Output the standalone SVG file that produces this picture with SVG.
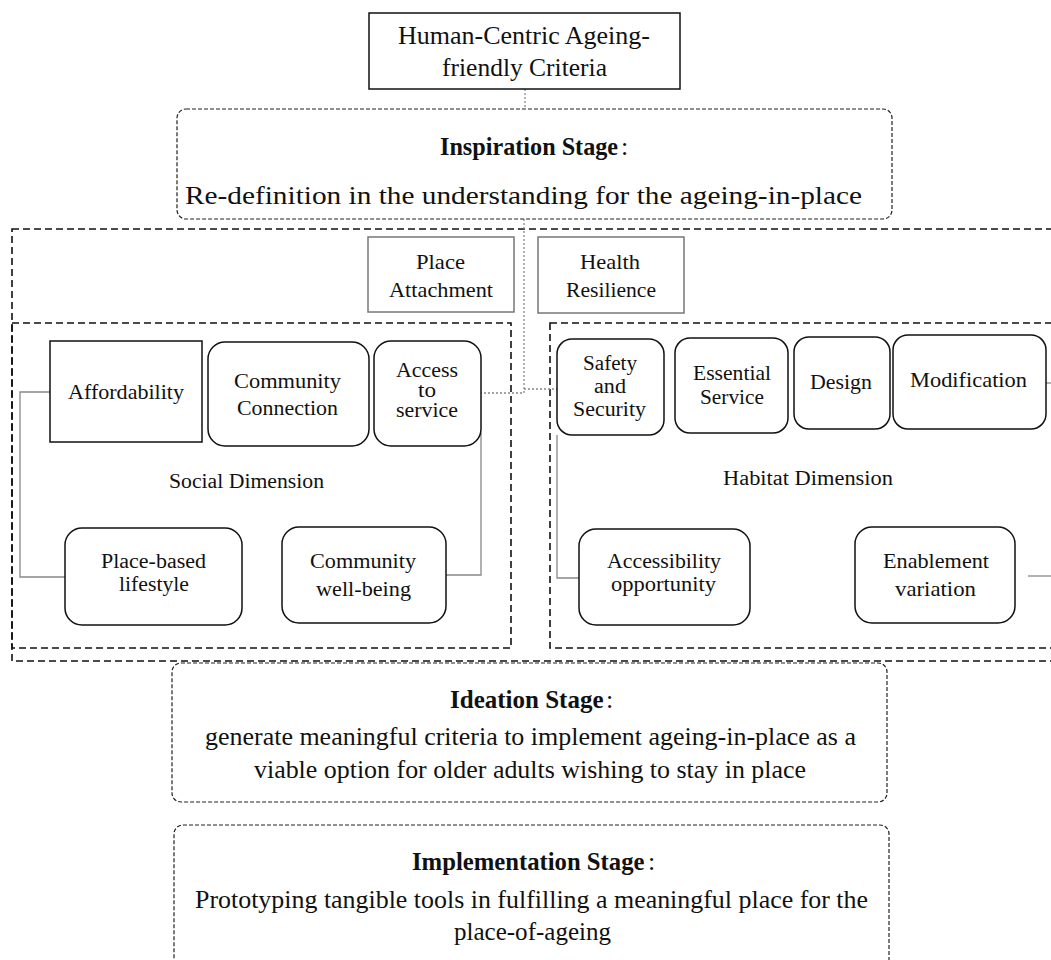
<svg xmlns="http://www.w3.org/2000/svg" width="1051" height="960" viewBox="0 0 1051 960">
<style>
text{font-family:"Liberation Serif","Times New Roman",serif;fill:#111;}
.big{font-size:26px;}
.bold{font-weight:bold;}
.nd{font-size:22px;}
.sm{font-size:20px;}
.dim{font-size:20px;}
.box{fill:#fff;stroke:#111;stroke-width:1.5;}
.gbox{fill:#fff;stroke:#777;stroke-width:1.5;}
.stage{fill:none;stroke:#222;stroke-width:1.2;stroke-dasharray:4 2;}
.dash{fill:none;stroke:#111;stroke-width:1.6;stroke-dasharray:7 4;}
.conn{fill:none;stroke:#888;stroke-width:1.3;}
.dot{fill:none;stroke:#888;stroke-width:1.3;stroke-dasharray:2 2;}
</style>
<rect width="1051" height="960" fill="#fff"/>

<g id="containers">
<rect class="dash" x="12" y="229" width="1060" height="432"/>
<rect class="dash" x="12" y="323" width="499" height="325"/>
<rect class="dash" x="550" y="323" width="520" height="325"/>
</g>

<g id="connectors">
<path class="dot" d="M525 89 V109"/>
<path class="dot" d="M524 219 V393 H481"/>
<path class="dot" d="M524 389 H557"/>
<path class="conn" d="M50 392 H20 V577 H65"/>
<path class="conn" d="M481 433 V575 H446"/>
<path class="conn" d="M557 435 V578 H579"/>
<path class="conn" d="M1046 383 H1051"/>
<path class="conn" d="M1028 576 H1051"/>
</g>

<g id="n-top">
<rect class="box" x="369" y="13" width="311" height="76"/>
<text class="big" x="398" y="44" textLength="252" lengthAdjust="spacingAndGlyphs">Human-Centric Ageing-</text>
<text class="big" x="442" y="76" textLength="165" lengthAdjust="spacingAndGlyphs">friendly Criteria</text>
</g>

<g id="n-inspiration">
<rect class="stage" x="177" y="109" width="715" height="110" rx="9"/>
<text class="bold" x="440" y="155" font-size="24.2">Inspiration Stage</text>
<text class="big" x="621" y="155">:</text>
<text class="big" x="185" y="204" textLength="677" lengthAdjust="spacingAndGlyphs">Re-definition in the understanding for the ageing-in-place</text>
</g>

<g id="n-place-attachment">
<rect class="gbox" x="368" y="237" width="146" height="75"/>
<text class="nd" x="416" y="269" textLength="49" lengthAdjust="spacingAndGlyphs">Place</text>
<text class="nd" x="389" y="297" textLength="104" lengthAdjust="spacingAndGlyphs">Attachment</text>
</g>

<g id="n-health-resilience">
<rect class="gbox" x="538" y="237" width="146" height="76"/>
<text class="nd" x="580" y="269" textLength="60" lengthAdjust="spacingAndGlyphs">Health</text>
<text class="nd" x="566" y="297" textLength="90" lengthAdjust="spacingAndGlyphs">Resilience</text>
</g>

<g id="n-affordability">
<rect class="box" x="50" y="341" width="152" height="101"/>
<text class="nd" x="68" y="399" textLength="116" lengthAdjust="spacingAndGlyphs">Affordability</text>
</g>

<g id="n-community-connection">
<rect class="box" x="208" y="342" width="161" height="104" rx="17"/>
<text class="nd" x="234" y="388" textLength="107" lengthAdjust="spacingAndGlyphs">Community</text>
<text class="nd" x="237" y="415" textLength="101" lengthAdjust="spacingAndGlyphs">Connection</text>
</g>

<g id="n-access">
<rect class="box" x="374" y="341" width="107" height="105" rx="17"/>
<text class="sm" x="396" y="377" textLength="62" lengthAdjust="spacingAndGlyphs">Access</text>
<text class="sm" x="418" y="397" textLength="18" lengthAdjust="spacingAndGlyphs">to</text>
<text class="sm" x="396" y="417" textLength="62" lengthAdjust="spacingAndGlyphs">service</text>
</g>

<g id="n-social-dimension">
<text class="dim" x="169" y="488" textLength="155" lengthAdjust="spacingAndGlyphs">Social Dimension</text>
</g>

<g id="n-place-based">
<rect class="box" x="65" y="528" width="177" height="97" rx="17"/>
<text class="sm" x="101" y="568" textLength="105" lengthAdjust="spacingAndGlyphs">Place-based</text>
<text class="sm" x="119" y="591" textLength="70" lengthAdjust="spacingAndGlyphs">lifestyle</text>
</g>

<g id="n-community-wellbeing">
<rect class="box" x="282" y="527" width="164" height="96" rx="17"/>
<text class="nd" x="310" y="568" textLength="106" lengthAdjust="spacingAndGlyphs">Community</text>
<text class="nd" x="316" y="596" textLength="95" lengthAdjust="spacingAndGlyphs">well-being</text>
</g>

<g id="n-safety">
<rect class="box" x="557" y="339" width="107" height="96" rx="15"/>
<text class="sm" x="583" y="370" textLength="54" lengthAdjust="spacingAndGlyphs">Safety</text>
<text class="sm" x="594" y="393" textLength="32" lengthAdjust="spacingAndGlyphs">and</text>
<text class="sm" x="573" y="416" textLength="73" lengthAdjust="spacingAndGlyphs">Security</text>
</g>

<g id="n-essential">
<rect class="box" x="675" y="338" width="113" height="95" rx="15"/>
<text class="nd" x="693" y="380" textLength="78" lengthAdjust="spacingAndGlyphs">Essential</text>
<text class="nd" x="700" y="404" textLength="64" lengthAdjust="spacingAndGlyphs">Service</text>
</g>

<g id="n-design">
<rect class="box" x="794" y="337" width="96" height="92" rx="15"/>
<text class="nd" x="810" y="389" textLength="62" lengthAdjust="spacingAndGlyphs">Design</text>
</g>

<g id="n-modification">
<rect class="box" x="893" y="335" width="153" height="94" rx="15"/>
<text class="nd" x="910" y="387" textLength="117" lengthAdjust="spacingAndGlyphs">Modification</text>
</g>

<g id="n-habitat-dimension">
<text class="dim" x="723" y="485" textLength="170" lengthAdjust="spacingAndGlyphs">Habitat Dimension</text>
</g>

<g id="n-accessibility">
<rect class="box" x="579" y="529" width="171" height="96" rx="17"/>
<text class="sm" x="607" y="568" textLength="114" lengthAdjust="spacingAndGlyphs">Accessibility</text>
<text class="sm" x="611" y="591" textLength="105" lengthAdjust="spacingAndGlyphs">opportunity</text>
</g>

<g id="n-enablement">
<rect class="box" x="855" y="527" width="160" height="96" rx="17"/>
<text class="nd" x="883" y="568" textLength="106" lengthAdjust="spacingAndGlyphs">Enablement</text>
<text class="nd" x="895" y="596" textLength="81" lengthAdjust="spacingAndGlyphs">variation</text>
</g>

<g id="n-ideation">
<rect class="stage" x="172" y="663" width="715" height="139" rx="9"/>
<text class="bold" x="450" y="708" font-size="25">Ideation Stage</text>
<text class="big" x="606" y="708">:</text>
<text class="big" x="205" y="745" textLength="651" lengthAdjust="spacingAndGlyphs">generate meaningful criteria to implement ageing-in-place as a</text>
<text class="big" x="254" y="778" textLength="552" lengthAdjust="spacingAndGlyphs">viable option for older adults wishing to stay in place</text>
</g>

<g id="n-implementation">
<rect class="stage" x="174" y="825" width="715" height="145" rx="9"/>
<text class="bold" x="412" y="870" font-size="24.7">Implementation Stage</text>
<text class="big" x="648" y="870">:</text>
<text class="big" x="195" y="908" textLength="673" lengthAdjust="spacingAndGlyphs">Prototyping tangible tools in fulfilling a meaningful place for the</text>
<text class="big" x="454" y="940" textLength="157" lengthAdjust="spacingAndGlyphs">place-of-ageing</text>
</g>
</svg>
